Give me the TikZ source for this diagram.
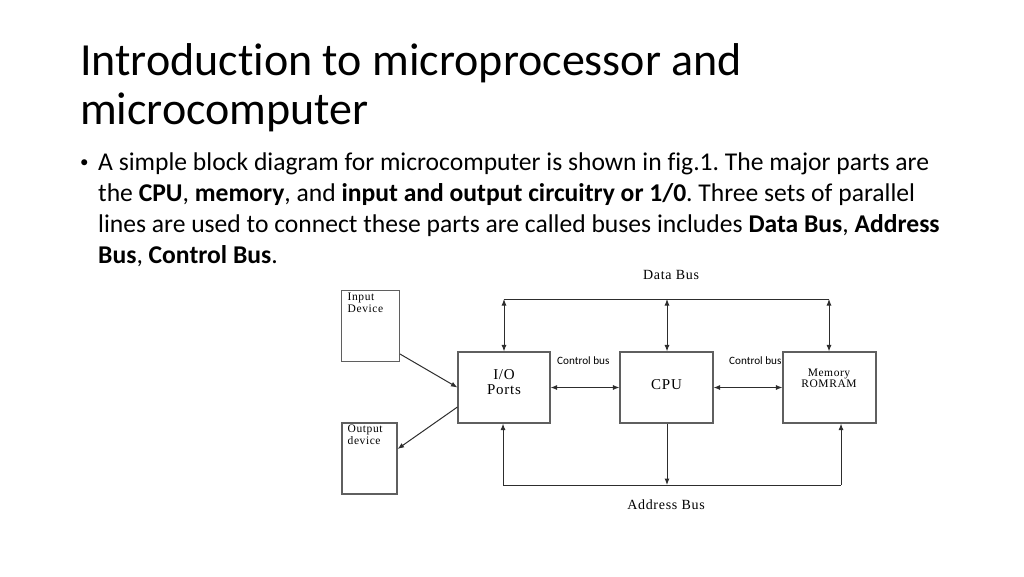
\documentclass[tikz,border=0pt]{standalone}
\usepackage{fontspec}
\setmainfont{Carlito}[Ligatures=NoCommon]
\newfontfamily\figfont{Liberation Serif}[LetterSpace=5]
\usetikzlibrary{arrows.meta}
\definecolor{boxgray}{RGB}{95,95,95}
\definecolor{wiregray}{RGB}{45,45,45}
\frenchspacing
\tikzset{
  slidetitle/.style = {anchor=base west, inner sep=0pt, font=\fontsize{46}{49}\selectfont},
  slidetext/.style = {anchor=base west, inner sep=0pt, font=\fontsize{25.6}{31}\selectfont},
  blk/.style = {rectangle, draw=boxgray, line width=1.1pt, inner sep=0pt},% boite du schema
  blk_txt/.style = {inner sep=0pt, align=center, font=\figfont\fontsize{15}{15}\selectfont},
  blk_small/.style = {inner sep=0pt, align=left, anchor=north west,
    font=\figfont\fontsize{11.5}{11.7}\selectfont},
  bus_txt/.style = {inner sep=0pt, anchor=base, font=\figfont\fontsize{14}{14}\selectfont},
  ctl_txt/.style = {inner sep=0pt, anchor=base west, font=\fontsize{11.2}{12}\selectfont},
  wire/.style = {draw=wiregray, line width=1pt},
}

\begin{document}
\begin{tikzpicture}[x=1pt,y=-1pt,>={Latex[length=6.5pt,width=5pt]}]
  \useasboundingbox (0,0) rectangle (1024,576);

  % titre
  \node[slidetitle] (t1) at (80,75) {Introduction to microprocessor and};
  \node[slidetitle] (t2) at (80,124) {microcomputer};

  % texte
  \node[slidetext, font=\fontsize{17}{17}\selectfont] (bul) at (80,167) {\textbullet};
  \node[slidetext] (l1) at (98,170) {A simple block diagram for microcomputer is shown in fig.1. The major parts are};
  \node[slidetext] (l2) at (98,201) {the \textbf{CPU}, \textbf{memory}, and \textbf{input and output circuitry or 1/0}. Three sets of parallel};
  \node[slidetext] (l3) at (98,232) {lines are used to connect these parts are called buses includes \textbf{Data Bus}, \textbf{Address}};
  \node[slidetext] (l4) at (98,263) {\textbf{Bus}, \textbf{Control Bus}.};

  % boites
  \node[blk, minimum width=58pt, minimum height=71pt] (in) at (370.5,326) {};
  \node[blk, minimum width=55pt, minimum height=71pt] (out) at (369.5,458.5) {};
  \node[blk, minimum width=92pt, minimum height=71pt] (io) at (504,387.5) {};
  \node[blk, minimum width=93pt, minimum height=71pt] (cpu) at (666.5,387.5) {};
  \node[blk, minimum width=93pt, minimum height=71pt] (mem) at (829.5,387.5) {};

  \node[blk_small] (intxt) at (347.5,293) {Input\\Device};
  \node[blk_small] (outtxt) at (347.5,425) {Output\\device};
  \node[blk_txt] (iotxt) at (504,382) {I/O\\Ports};
  \node[blk_txt] (cputxt) at (666.5,385) {CPU};
  \node[blk_small, anchor=center, align=center, font=\figfont\fontsize{11.5}{11.5}\selectfont] (memtxt) at (829,378.5) {Memory\\ROMRAM};

  % bus de donnees
  \coordinate (d1) at (504,299);
  \coordinate (d2) at (667,299);
  \coordinate (d3) at (829,299);
  \node[bus_txt] (dbus) at (671,279) {Data Bus};
  \draw[wire] (d1) -- (d3);
  \draw[wire,<->] (d1) -- (d1 |- io.north);
  \draw[wire,<->] (d2) -- (d2 |- cpu.north);
  \draw[wire,<->] (d3) -- (d3 |- mem.north);

  % bus de controle
  \node[ctl_txt] (ctl1) at (557,364) {Control bus};
  \node[ctl_txt] (ctl2) at (729,364) {Control bus};
  \draw[wire,<->] (io.east) -- (cpu.west);
  \draw[wire,<->] (cpu.east) -- (mem.west);

  % peripheriques
  \draw[wire,->] ([yshift=8pt]in.south east) -- (io.west);
  \draw[wire,->] ([yshift=-19.5pt]io.west) -- ([yshift=9.5pt]out.east);

  % bus d'adresses
  \coordinate (a1) at (503,485);
  \coordinate (a2) at (667,485);
  \coordinate (a3) at (841,485);
  \node[bus_txt] (abus) at (666,509) {Address Bus};
  \draw[wire] (a1) -- (a3);
  \draw[wire,->] (a1) -- (a1 |- io.south);
  \draw[wire,->] (a2 |- cpu.south) -- (a2);
  \draw[wire,->] (a3) -- (a3 |- mem.south);
\end{tikzpicture}
\end{document}
